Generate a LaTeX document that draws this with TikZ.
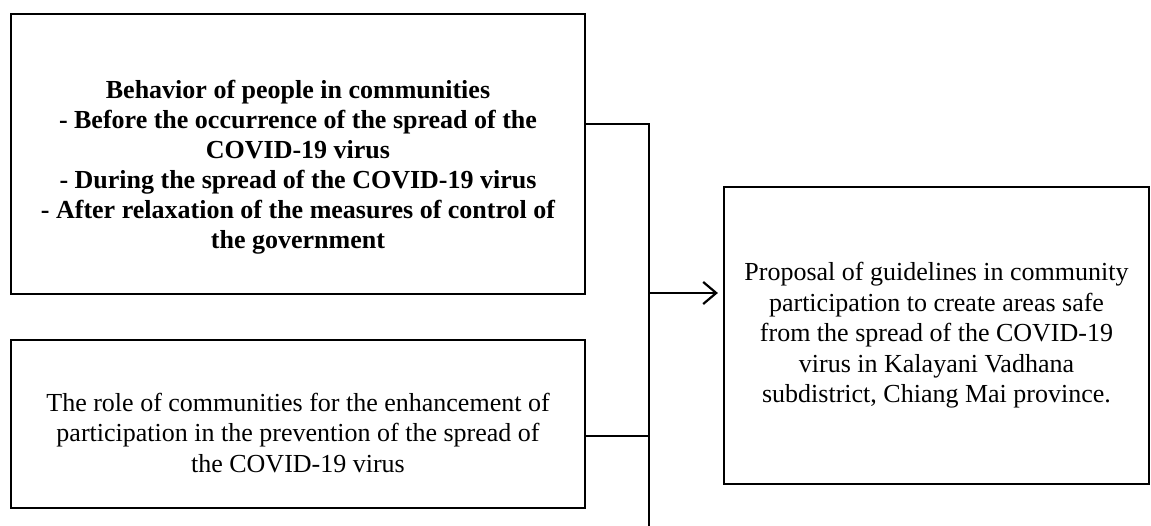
\documentclass[tikz,border=0pt]{standalone}
\usepackage{fontspec}
\setmainfont{Liberation Serif}
\usetikzlibrary{arrows.meta}
\begin{document}
\begin{tikzpicture}[x=1pt,y=-1pt,
  box/.style={draw, line width=2.2pt, inner sep=0pt},
  txt/.style={align=center, inner sep=0pt, font=\fontsize{26}{30.5}\selectfont},
  btxt/.style={align=center, inner sep=0pt, font=\bfseries\fontsize{26}{30}\selectfont},
  conn/.style={line width=2.2pt}]
\useasboundingbox (0,0) rectangle (1151,526);
\fill[white] (0,0) rectangle (1151,526);
\node[box, minimum width=574pt, minimum height=280pt,
  label={[btxt, yshift=-13pt]center:{Behavior of people in communities\\
   - Before the occurrence of the spread of the\\
   COVID-19 virus\\
   - During the spread of the COVID-19 virus\\
   - After relaxation of the measures of control of\\
   the government}}] (b1) at (298,154) {};
\node[box, minimum width=574pt, minimum height=168pt,
  label={[txt, yshift=-9pt]center:{The role of communities for the enhancement of\\
   participation in the prevention of the spread of\\
   the COVID-19 virus}}] (b2) at (298,424) {};
\node[box, minimum width=425pt, minimum height=297pt,
  label={[txt]center:{Proposal of guidelines in community\\
   participation to create areas safe\\
   from the spread of the COVID-19\\
   virus in Kalayani Vadhana\\
   subdistrict, Chiang Mai province.}}] (b3) at (936.5,335.5) {};
\coordinate (j1) at (649,124);
\coordinate (j2) at (649,436);
\coordinate (j3) at (649,293);
\coordinate (jend) at (649,526);
\draw[conn] (b1.east |- j1) -- (j1) -- (jend);
\draw[conn] (b2.east |- j2) -- (j2);
\draw[conn, -{Straight Barb[length=13pt,width=22pt,line width=2.2pt]}, shorten >=5pt] (j3) -- (b3.west |- j3);
\end{tikzpicture}
\end{document}
